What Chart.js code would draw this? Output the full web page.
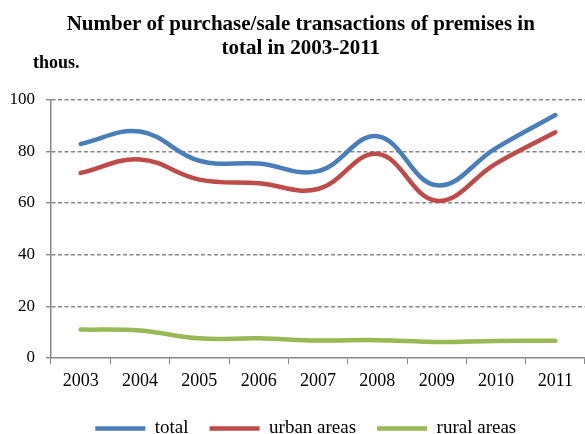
<!DOCTYPE html>
<html lang="en">
<head>
<meta charset="UTF-8">
<title>Purchase/sale transactions of premises 2003-2011</title>
<style>
    body { margin: 0; background: #fff; }
    canvas { display: block; }
</style>
<script src="https://cdn.jsdelivr.net/npm/chart.js"></script>
</head>
<body>
<canvas id="chart" width="585" height="434"></canvas>
<script>
    // data (thousands)
    const years = ['2003', '2004', '2005', '2006', '2007', '2008', '2009', '2010', '2011'];
    const total = [82.8, 87.6, 76.3, 75.2, 72.3, 85.8, 66.8, 81.2, 94.0];
    const urban = [71.6, 76.8, 69.0, 67.6, 65.4, 79.0, 60.8, 75.2, 87.3];
    const rural = [11.0, 10.6, 7.6, 7.6, 6.8, 6.9, 6.2, 6.6, 6.7];
    const yTicks = [0, 20, 40, 60, 80, 100];

    const serif = "'Liberation Serif', 'Times New Roman', serif";
    const gridGrey = '#888888';

    // "thous." unit label top left
    const unitLabel = {
        id: 'unitLabel',
        afterDraw(chart) {
            const c = chart.ctx;
            c.save();
            c.font = 'bold 18px ' + serif;
            c.fillStyle = '#000';
            c.textBaseline = 'middle';
            c.fillText('thous.', 33, 63);
            c.restore();
        }
    };

    // title and legend sit a bit right of centre in the original
    const nudge = {
        id: 'nudge',
        afterLayout(chart) {
            if (chart.titleBlock) {
                chart.titleBlock.left += 9;
                chart.titleBlock.right += 9;
            }
            if (chart.legend) {
                chart.legend.left += 14;
                chart.legend.right += 14;
            }
        }
    };

    function serie(label, data, color) {
        return {
            label: label,
            data: data,
            borderColor: color,
            backgroundColor: color,
            borderWidth: 4.5,
            borderCapStyle: 'round',
            pointRadius: 0,
            tension: 0.4,
            fill: false
        };
    }

    new Chart(document.getElementById('chart'), {
        type: 'line',
        data: {
            labels: years,
            datasets: [
                serie('total', total, '#4a7ebb'),
                serie('urban areas', urban, '#be4b48'),
                serie('rural areas', rural, '#98b954')
            ]
        },
        options: {
            responsive: false,
            animation: false,
            layout: { padding: { left: -1.5, right: 0, bottom: -14 } },
            plugins: {
                title: {
                    display: true,
                    text: ['Number of purchase/sale transactions of premises in', 'total in 2003-2011'],
                    color: '#000',
                    font: { family: serif, size: 21, weight: 'bold', lineHeight: 1.143 },
                    padding: { top: 13, bottom: 38.5 }
                },
                legend: {
                    position: 'bottom',
                    labels: {
                        usePointStyle: true,
                        pointStyle: 'line',
                        pointStyleWidth: 50,
                        color: '#000',
                        font: { family: serif, size: 19 },
                        padding: 21
                    }
                },
                tooltip: { enabled: false }
            },
            scales: {
                x: {
                    offset: true,
                    grid: {
                        offset: true,
                        drawOnChartArea: false,
                        color: gridGrey,
                        tickLength: 6
                    },
                    border: { color: gridGrey, width: 1.5 },
                    ticks: {
                        color: '#000',
                        font: { family: serif, size: 18, lineHeight: 1 },
                        maxRotation: 0,
                        padding: 8
                    }
                },
                y: {
                    min: 0,
                    max: 100,
                    afterBuildTicks(scale) {
                        scale.ticks = yTicks.map(v => ({ value: v }));
                    },
                    grid: {
                        color: ctx => ctx.tick && ctx.tick.value === 0 ? 'rgba(0,0,0,0)' : gridGrey,
                        lineWidth: 1.4,
                        tickColor: gridGrey,
                        tickLength: 5
                    },
                    border: { color: gridGrey, width: 1.5, dash: [4, 2.5] },
                    ticks: {
                        color: '#000',
                        font: { family: serif, size: 17 },
                        padding: 11
                    }
                }
            }
        },
        plugins: [unitLabel, nudge]
    });
</script>
</body>
</html>
